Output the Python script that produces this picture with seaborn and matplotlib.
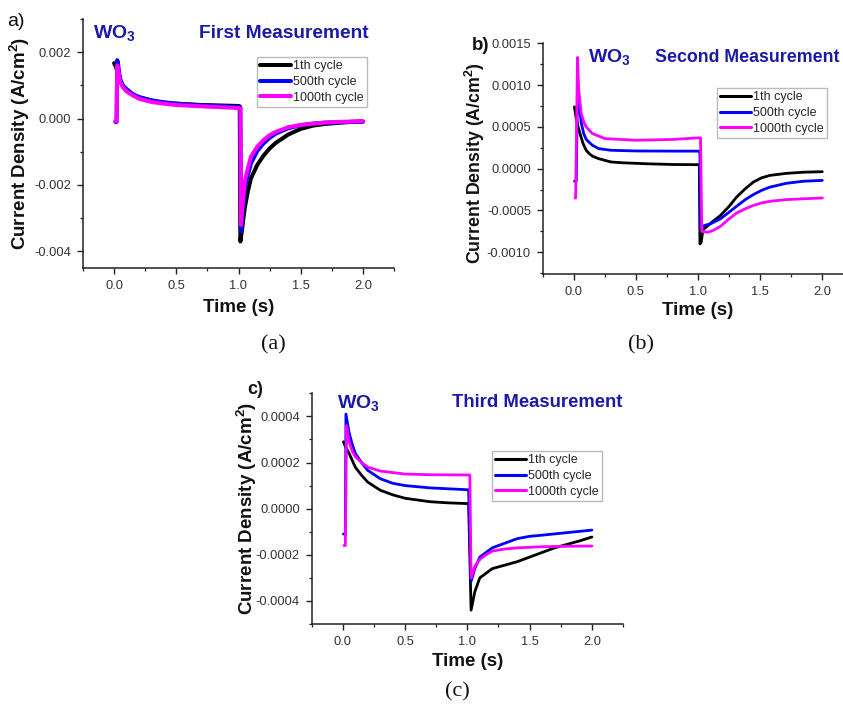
import matplotlib
matplotlib.use("Agg")
import matplotlib.pyplot as plt
import seaborn as sns
import pandas as pd
from matplotlib.ticker import MultipleLocator, AutoMinorLocator, FormatStrFormatter

# ---------------- data ----------------
SERIES = ["1th cycle", "500th cycle", "1000th cycle"]
COLORS = ["#000000", "#0000ff", "#ff00ff"]

# Panel (a) – First Measurement
A1_T = [0.0, 0.01, 0.02, 0.03, 0.05, 0.07, 0.1, 0.15, 0.2, 0.3, 0.4, 0.5, 0.7, 1.0, 1.01,
        1.015, 1.03, 1.05, 1.075, 1.1, 1.15, 1.2, 1.25, 1.3, 1.4, 1.5, 1.6, 1.7, 1.8, 1.9, 2.0]
A1_J = [0.00167, 0.0016, 0.0015, 0.0014, 0.00115, 0.00098, 0.00085, 0.00072, 0.00064, 0.00054,
        0.00048, 0.00045, 0.00041, 0.00038, 0.00037,
        -0.0037, -0.0033, -0.0027, -0.0022, -0.0018, -0.0014, -0.00112, -0.0009, -0.00073,
        -0.00048, -0.00031, -0.00021, -0.00016, -0.00013, -0.0001, -0.00009]
A2_T = [0.01, 0.02, 0.025, 0.03, 0.04, 0.05, 0.07, 0.1, 0.15, 0.2, 0.3, 0.4, 0.5, 0.7, 1.0, 1.015,
        1.02, 1.03, 1.05, 1.075, 1.1, 1.15, 1.2, 1.25, 1.3, 1.4, 1.5, 1.6, 1.7, 1.8, 1.9, 2.0]
A2_J = [-0.0001, -0.0001, 0.00176, 0.0017, 0.0014, 0.00118, 0.001, 0.00089, 0.00074, 0.00065,
        0.00055, 0.00049, 0.00045, 0.0004, 0.00035, 0.00034,
        -0.0034, -0.0029, -0.0021, -0.0017, -0.00135, -0.00098, -0.00075, -0.00058, -0.00045,
        -0.00029, -0.0002, -0.00015, -0.00012, -0.00011, -0.0001, -0.00009]
A3_T = [0.01, 0.02, 0.025, 0.03, 0.04, 0.05, 0.07, 0.1, 0.15, 0.2, 0.3, 0.4, 0.5, 0.7, 1.0, 1.015,
        1.02, 1.03, 1.05, 1.075, 1.1, 1.15, 1.2, 1.25, 1.3, 1.4, 1.5, 1.6, 1.7, 1.8, 1.9, 2.0]
A3_J = [-0.00008, -0.00008, 0.0016, 0.00155, 0.0013, 0.0011, 0.00095, 0.00082, 0.0007, 0.0006,
        0.0005, 0.00045, 0.00041, 0.00037, 0.00032, 0.00031,
        -0.0032, -0.0027, -0.0019, -0.0015, -0.00115, -0.00085, -0.00065, -0.0005, -0.0004,
        -0.00026, -0.00019, -0.00015, -0.00012, -0.0001, -0.00009, -0.00008]

# Panel (b) – Second Measurement
B1_T = [0.005, 0.02, 0.035, 0.05, 0.075, 0.1, 0.125, 0.15, 0.2, 0.3, 0.4, 0.6, 0.8, 1.0, 1.01,
        1.015, 1.025, 1.04, 1.08, 1.12, 1.18, 1.25, 1.31, 1.38, 1.445, 1.51, 1.58, 1.71, 1.85, 2.0]
B1_J = [0.00074, 0.0006, 0.0005, 0.00042, 0.0003, 0.00022, 0.00018, 0.00015, 0.00012, 0.00008,
        0.00007, 0.000058, 0.00005, 0.000048, 0.000048,
        -0.0009, -0.00088, -0.00073, -0.00068, -0.00063, -0.00056, -0.00045, -0.00034, -0.00024,
        -0.00016, -0.00011, -0.00008, -0.000056, -0.000042, -0.000036]
B2_T = [0.005, 0.02, 0.03, 0.04, 0.06, 0.08, 0.1, 0.15, 0.2, 0.3, 0.5, 0.8, 1.0, 1.015,
        1.02, 1.05, 1.1, 1.18, 1.25, 1.31, 1.38, 1.445, 1.51, 1.58, 1.71, 1.85, 2.0]
B2_J = [-0.00015, -0.00015, 0.0009, 0.00082, 0.00055, 0.00042, 0.00035, 0.00028, 0.00024,
        0.00022, 0.000212, 0.00021, 0.00021, 0.00021,
        -0.00072, -0.00068, -0.00066, -0.0006, -0.00052, -0.00045, -0.00037, -0.00031, -0.00026,
        -0.00022, -0.000175, -0.00015, -0.00014]
B3_T = [0.01, 0.015, 0.03, 0.04, 0.06, 0.08, 0.1, 0.15, 0.25, 0.5, 0.8, 1.02,
        1.03, 1.08, 1.12, 1.18, 1.25, 1.31, 1.38, 1.445, 1.51, 1.58, 1.71, 1.85, 2.0]
B3_J = [-0.00035, -0.00035, 0.00133, 0.00094, 0.00066, 0.00056, 0.0005, 0.00042, 0.00036,
        0.00034, 0.00035, 0.00037,
        -0.00075, -0.00076, -0.00074, -0.00069, -0.0006, -0.00053, -0.00048, -0.00044, -0.00041,
        -0.00039, -0.00037, -0.00036, -0.00035]

# Panel (c) – Third Measurement
C1_T = [0.005, 0.02, 0.05, 0.075, 0.1, 0.15, 0.2, 0.3, 0.4, 0.5, 0.7, 0.85, 1.0, 1.01,
        1.03, 1.06, 1.1, 1.15, 1.2, 1.3, 1.4, 1.5, 1.6, 1.7, 1.8, 1.9, 2.0]
C1_J = [0.00029, 0.00027, 0.00024, 0.00021, 0.00018, 0.000145, 0.000115, 0.00008, 0.00006,
        0.000045, 0.00003, 0.000025, 0.000022, 0.000022,
        -0.00044, -0.00036, -0.0003, -0.00028, -0.00026, -0.000245, -0.00023, -0.00021,
        -0.00019, -0.00017, -0.000155, -0.00014, -0.000123]
C2_T = [0.005, 0.02, 0.025, 0.05, 0.075, 0.1, 0.15, 0.2, 0.3, 0.4, 0.5, 0.7, 1.0, 1.01,
        1.03, 1.06, 1.1, 1.15, 1.2, 1.3, 1.4, 1.5, 1.6, 1.8, 2.0]
C2_J = [-0.00011, -0.00011, 0.00041, 0.00033, 0.00028, 0.00024, 0.0002, 0.000166, 0.00013,
        0.00011, 0.0001, 0.00009, 0.000082, 0.000082,
        -0.000315, -0.00026, -0.00021, -0.00019, -0.00017, -0.00015, -0.00013, -0.00012,
        -0.000115, -0.000104, -0.000093]
C3_T = [0.01, 0.02, 0.03, 0.05, 0.075, 0.1, 0.15, 0.2, 0.3, 0.5, 0.7, 1.0, 1.02,
        1.03, 1.06, 1.1, 1.15, 1.2, 1.3, 1.4, 1.6, 1.8, 2.0]
C3_J = [-0.00016, -0.00016, 0.00036, 0.00029, 0.00025, 0.000225, 0.0002, 0.00018, 0.000163,
        0.00015, 0.000147, 0.000146, 0.000146,
        -0.0003, -0.00025, -0.00022, -0.0002, -0.000184, -0.000175, -0.00017, -0.000165,
        -0.000163, -0.000162]

# ---------------- style ----------------
sns.set_style("ticks")
plt.rcParams["font.family"] = ["Liberation Sans", "DejaVu Sans"]
plt.rcParams["mathtext.fontset"] = "custom"
plt.rcParams["mathtext.rm"] = "Liberation Sans"
plt.rcParams["mathtext.bf"] = "Liberation Sans:bold"
plt.rcParams["mathtext.it"] = "Liberation Sans:italic"

W, H = 843, 704
fig = plt.figure(figsize=(W / 100, H / 100), dpi=100)
fig.patch.set_facecolor("white")

TITLE_BLUE = "#1a1aa6"


def fx(x):
    return x / W


def fy(y):
    return 1 - y / H


def make_axes(left, top, right, bottom):
    return fig.add_axes([fx(left), fy(bottom), (right - left) / W, (bottom - top) / H])


def style_axes(ax, ylim, ymajor, yfmt):
    ax.set_xlim(-0.25, 2.25)
    ax.set_ylim(*ylim)
    ax.xaxis.set_major_locator(MultipleLocator(0.5))
    ax.xaxis.set_minor_locator(AutoMinorLocator(2))
    ax.yaxis.set_major_locator(MultipleLocator(ymajor))
    ax.yaxis.set_minor_locator(AutoMinorLocator(2))
    ax.yaxis.set_major_formatter(FormatStrFormatter(yfmt))
    ax.xaxis.set_major_formatter(FormatStrFormatter("%.1f"))
    for s in ["top", "right"]:
        ax.spines[s].set_visible(False)
    for s in ["left", "bottom"]:
        ax.spines[s].set_linewidth(1.1)
        ax.spines[s].set_color("#222222")
    ax.tick_params(which="major", direction="out", length=4.5, width=1.0, color="#222222",
                   labelsize=9.3, labelcolor="#333333", pad=4)
    ax.tick_params(which="minor", direction="out", length=2.5, width=0.9, color="#222222")
    ax.set_facecolor("white")


def draw(ax, ts, js, lw):
    for t, j, name, c in zip(ts, js, SERIES, COLORS):
        df = pd.DataFrame({"t": t, "j": j})
        sns.lineplot(data=df, x="t", y="j", ax=ax, color=c, lw=lw, label=name,
                     sort=False, estimator=None)


def labels(ax, xl_y, yl_x, yl_y=0.5, ysize=13.5):
    ax.set_xlabel("Time (s)", fontsize=13.5, fontweight="bold", color="#111111")
    ax.set_ylabel("Current Density (A/cm$\\mathbf{^2}$)", fontsize=ysize, fontweight="bold",
                  color="#111111")
    ax.xaxis.set_label_coords(0.5, xl_y)
    ax.yaxis.set_label_coords(yl_x, yl_y)


def legend(ax, x, y, lw):
    leg = ax.legend(loc="upper left", bbox_to_anchor=(fx(x), fy(y)),
                    bbox_transform=fig.transFigure, borderaxespad=0, fontsize=9,
                    frameon=True, fancybox=False, handlelength=2.5, handletextpad=0.15,
                    labelspacing=0.3, borderpad=0.25)
    leg.get_frame().set_edgecolor("#aaaaaa")
    leg.get_frame().set_linewidth(1.0)
    for h in leg.get_lines():
        h.set_linewidth(lw)


# ---------------- panel (a) ----------------
axa = make_axes(83, 19, 394, 268)
draw(axa, [A1_T, A2_T, A3_T], [A1_J, A2_J, A3_J], 2.9)
style_axes(axa, (-0.0045, 0.003), 0.002, "%.3f")
labels(axa, -0.125, -0.165)
legend(axa, 257, 57, 2.9)
fig.text(fx(7), fy(21), "a)", fontsize=14, ha="left", va="center", color="#111111")
fig.text(fx(93), fy(33), "WO$\\mathbf{_3}$", fontsize=14, fontweight="bold",
         color=TITLE_BLUE, ha="left", va="center")
fig.text(fx(199), fy(33), "First Measurement", fontsize=13.8, fontweight="bold",
         color=TITLE_BLUE, ha="left", va="center")

# ---------------- panel (b) ----------------
axb = make_axes(542.7, 43.3, 853.4, 274)
draw(axb, [B1_T, B2_T, B3_T], [B1_J, B2_J, B3_J], 2.0)
style_axes(axb, (-0.00126, 0.0015), 0.0005, "%.4f")
labels(axb, -0.12, -0.18, yl_y=0.48, ysize=12.8)
legend(axb, 717, 88, 2.2)
fig.text(fx(472), fy(45), "b)", fontsize=13.5, fontweight="bold", ha="left", va="center",
         color="#111111")
fig.text(fx(588), fy(57), "WO$\\mathbf{_3}$", fontsize=14, fontweight="bold",
         color=TITLE_BLUE, ha="left", va="center")
fig.text(fx(655), fy(58), "Second Measurement", fontsize=12.8, fontweight="bold",
         color=TITLE_BLUE, ha="left", va="center")

# ---------------- panel (c) ----------------
axc = make_axes(311.7, 393.3, 623, 624)
draw(axc, [C1_T, C2_T, C3_T], [C1_J, C2_J, C3_J], 2.0)
style_axes(axc, (-0.0005, 0.0005), 0.0002, "%.4f")
labels(axc, -0.125, -0.17)
legend(axc, 492, 451, 2.2)
fig.text(fx(247), fy(389), "c)", fontsize=13, fontweight="bold", ha="left", va="center",
         color="#111111")
fig.text(fx(337), fy(403), "WO$\\mathbf{_3}$", fontsize=14, fontweight="bold",
         color=TITLE_BLUE, ha="left", va="center")
fig.text(fx(452), fy(403), "Third Measurement", fontsize=13.3, fontweight="bold",
         color=TITLE_BLUE, ha="left", va="center")

# ---------------- captions ----------------
for x, y, s in [(273, 345, "(a)"), (641, 345, "(b)"), (457, 692, "(c)")]:
    fig.text(fx(x), fy(y), s, fontsize=16, family=["Liberation Serif", "DejaVu Serif"],
             ha="center", va="center", color="#111111")

fig.savefig("out.png", dpi=100, facecolor="white")
